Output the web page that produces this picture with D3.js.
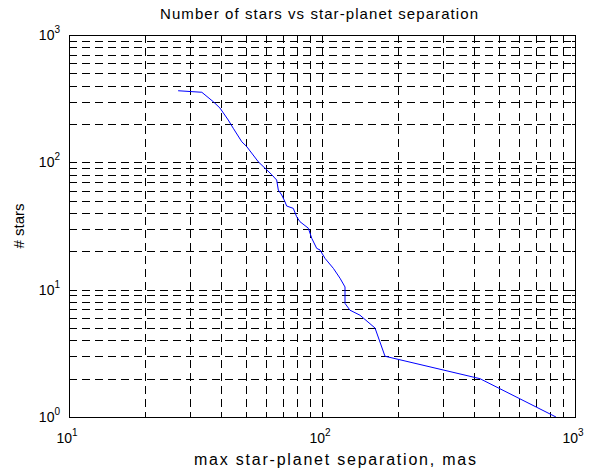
<!DOCTYPE html>
<html>
<head>
<meta charset="utf-8">
<script src="https://cdn.jsdelivr.net/npm/d3@7"></script>
<style>
  body { margin: 0; background: #fff; }
  text { font-family: "Liberation Sans", Arial, sans-serif; fill: #000; }
</style>
</head>
<body>
<script>
// separation (mas) vs number of stars
var separacion = [27, 33.5, 37.2, 39.5, 42.6, 44.6, 48.2, 50.4, 56, 63.3,
                  66.2, 67.2, 69.3, 71.4, 72.5, 77, 79.4, 81.8, 88.3, 91.1,
                  95.3, 98.2, 102.8, 110.9, 117.8, 123.3, 123.3, 129, 141.3,
                  162, 177.4, 421, 841];
var estrellas = [365, 355, 299, 267, 215, 185, 145, 133, 101, 80,
                 72.6, 60.6, 55.4, 49, 45.4, 43.5, 37.4, 34.2, 30.4, 25.3,
                 21.1, 20.5, 17.6, 14.7, 12.3, 10.5, 7.8, 6.9, 6.3,
                 5, 3, 2, 1];
var ticksX = [10, 100, 1000];
var ticksY = [1, 10, 100, 1000];

var vis = {
  width: 589,
  height: 471,
  left: 69,
  right: 575,
  top: 35,
  bottom: 417
};

var svg = d3.select("body").append("svg")
  .attr("width", vis.width)
  .attr("height", vis.height);

var x = d3.scaleLog().domain([10, 1000]).range([vis.left, vis.right]);
var y = d3.scaleLog().domain([1, 1000]).range([vis.bottom, vis.top]);

// all grid positions (1..9 per decade)
function rejilla(dominio) {
  var v = [];
  for (var d = dominio[0]; d < dominio[1]; d *= 10) {
    for (var k = 1; k < 10; k++) v.push(d * k);
  }
  v.push(dominio[1]);
  return v;
}
var gridX = rejilla([10, 1000]);
var gridY = rejilla([1, 1000]);

function px(v) { return Math.round(v) + 0.5; }

svg.append("g").selectAll("line")
  .data(gridX)
  .enter().append("line")
  .attr("x1", function(d) { return px(x(d)); })
  .attr("x2", function(d) { return px(x(d)); })
  .attr("y1", vis.top)
  .attr("y2", vis.bottom)
  .attr("stroke", "#000")
  .attr("stroke-width", 1)
  .attr("stroke-dasharray", "8,5");

svg.append("g").selectAll("line")
  .data(gridY)
  .enter().append("line")
  .attr("y1", function(d) { return px(y(d)); })
  .attr("y2", function(d) { return px(y(d)); })
  .attr("x1", vis.left)
  .attr("x2", vis.right)
  .attr("stroke", "#000")
  .attr("stroke-width", 1)
  .attr("stroke-dasharray", "8,5");

// inner tick marks on all four sides
function largo(v) {
  return Math.abs(Math.log10(v) - Math.round(Math.log10(v))) < 1e-9 ? 5 : 3;
}
var marcas = svg.append("g").attr("stroke", "#000").attr("stroke-width", 1);
gridX.forEach(function(d) {
  var xx = px(x(d));
  marcas.append("line").attr("x1", xx).attr("x2", xx)
    .attr("y1", vis.bottom).attr("y2", vis.bottom - largo(d));
  marcas.append("line").attr("x1", xx).attr("x2", xx)
    .attr("y1", vis.top).attr("y2", vis.top + largo(d));
});
gridY.forEach(function(d) {
  var yy = px(y(d));
  marcas.append("line").attr("y1", yy).attr("y2", yy)
    .attr("x1", vis.left).attr("x2", vis.left + largo(d));
  marcas.append("line").attr("y1", yy).attr("y2", yy)
    .attr("x1", vis.right).attr("x2", vis.right - largo(d));
});

// curve
var puntos = separacion.map(function(s, i) { return [s, estrellas[i]]; });
var linea = d3.line()
  .x(function(d) { return x(d[0]); })
  .y(function(d) { return y(d[1]); });

svg.append("path")
  .datum(puntos)
  .attr("d", linea)
  .attr("fill", "none")
  .attr("stroke", "#0000ff")
  .attr("stroke-width", 1);

// axes box
svg.append("rect")
  .attr("x", vis.left + 0.5)
  .attr("y", vis.top + 0.5)
  .attr("width", vis.right - vis.left)
  .attr("height", vis.bottom - vis.top)
  .attr("fill", "none")
  .attr("stroke", "#000")
  .attr("stroke-width", 1);

// tick labels 10^n
function exponente(sel, v) {
  sel.append("tspan").text("10");
  sel.append("tspan")
    .attr("dy", -7)
    .attr("font-size", 10)
    .text(Math.round(Math.log10(v)));
}

svg.append("g").selectAll("text")
  .data(ticksX)
  .enter().append("text")
  .attr("x", function(d) { return x(d) - 2; })
  .attr("y", vis.bottom + 26)
  .attr("text-anchor", "middle")
  .attr("font-size", 14)
  .each(function(d) { exponente(d3.select(this), d); });

svg.append("g").selectAll("text")
  .data(ticksY)
  .enter().append("text")
  .attr("x", vis.left - 9)
  .attr("y", function(d) { return y(d) + 5; })
  .attr("text-anchor", "end")
  .attr("font-size", 14)
  .each(function(d) { exponente(d3.select(this), d); });

// titles
svg.append("text")
  .attr("x", 160)
  .attr("y", 19)
  .attr("font-size", 15)
  .attr("textLength", 318)
  .attr("lengthAdjust", "spacing")
  .text("Number of stars vs star-planet separation");

svg.append("text")
  .attr("x", 194)
  .attr("y", 465)
  .attr("font-size", 16)
  .attr("textLength", 282)
  .attr("lengthAdjust", "spacing")
  .text("max star-planet separation, mas");

svg.append("text")
  .attr("transform", "translate(24," + ((vis.top + vis.bottom) / 2) + ") rotate(-90)")
  .attr("text-anchor", "middle")
  .attr("font-size", 15)
  .text("# stars");
</script>
</body>
</html>
